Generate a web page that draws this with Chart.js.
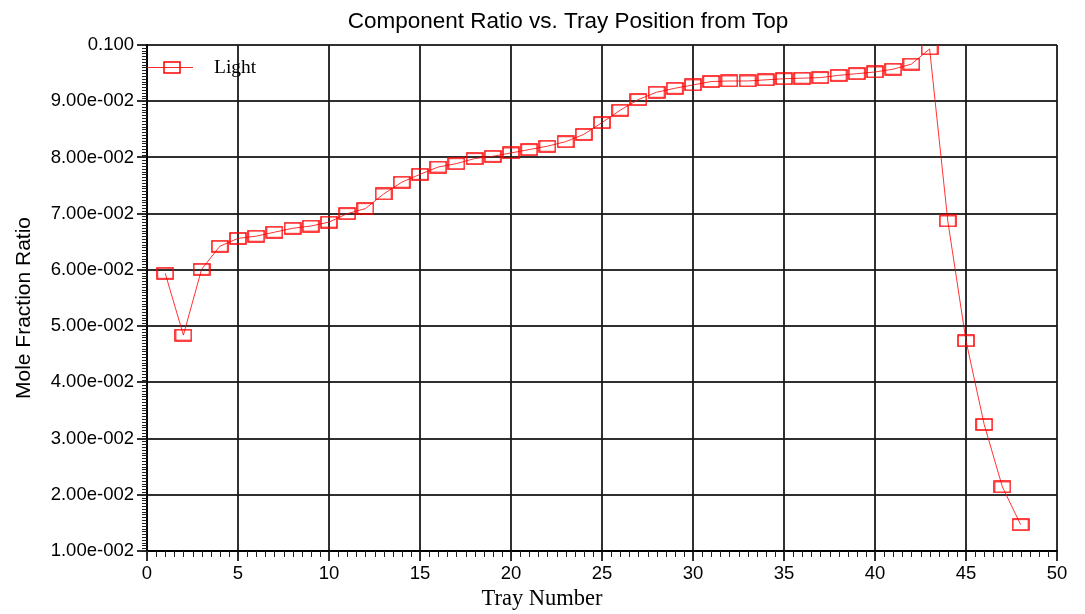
<!DOCTYPE html>
<html>
<head>
<meta charset="utf-8">
<script src="https://cdn.jsdelivr.net/npm/chart.js@4.4.1/dist/chart.umd.min.js"></script>
<style>
  html, body { margin: 0; padding: 0; background: #fff; }
  #wrap { width: 1085px; height: 614px; position: relative; }
</style>
</head>
<body>
<div id="wrap"><canvas id="c" width="1085" height="614"></canvas></div>
<script>
const chartTitle = 'Component Ratio vs. Tray Position from Top';
const xTitle = 'Tray Number';
const yTitle = 'Mole Fraction Ratio';
const seriesName = 'Light';

const trays = [1,2,3,4,5,6,7,8,9,10,11,12,13,14,15,16,17,18,19,20,21,22,23,24,
               25,26,27,28,29,30,31,32,33,34,35,36,37,38,39,40,41,42,43,44,45,46,47,48];
const light = [0.0594,0.0484,0.0601,0.0642,0.0656,0.0660,0.0667,0.0674,0.0678,0.0685,
               0.0700,0.0709,0.0735,0.0756,0.0770,0.0783,0.0789,0.0798,0.0802,0.0808,
               0.0814,0.0820,0.0828,0.0841,0.0862,0.0884,0.0903,0.0916,0.0923,0.0929,
               0.0935,0.0936,0.0936,0.0938,0.0940,0.0941,0.0942,0.0946,0.0949,0.0952,
               0.0957,0.0966,0.0993,0.0687,0.0474,0.0325,0.0214,0.0147];

const xMin = 0, xMax = 50, xStep = 5, xMinorStep = 0.5;
const yMin = 0.01, yMax = 0.1, yStep = 0.01, yMinorStep = 0.0005;

function fmtY(v) {
  const r = Math.round(v * 10000) / 10000;
  if (Math.abs(r - 0.1) < 1e-9) return '0.100';
  const parts = r.toExponential(2).split('e');
  const n = parseInt(parts[1], 10);
  return parts[0] + 'e' + (n < 0 ? '-' : '+') + String(Math.abs(n)).padStart(3, '0');
}

// marker image: open rectangle
function makeMarker() {
  const cv = document.createElement('canvas');
  cv.width = 18; cv.height = 13;
  const g = cv.getContext('2d');
  g.strokeStyle = '#ff0000';
  g.lineWidth = 1.5;
  g.strokeRect(1, 1, 16, 11);
  return cv;
}
const marker = makeMarker();

const extras = {
  id: 'extras',
  afterDraw(chart) {
    const ctx = chart.ctx;
    const xs = chart.scales.x, ys = chart.scales.y;
    ctx.save();
    // minor ticks
    ctx.strokeStyle = '#222';
    ctx.lineWidth = 1;
    ctx.beginPath();
    const nY = Math.round((yMax - yMin) / yMinorStep);
    for (let i = 0; i <= nY; i++) {
      const v = yMin + i * yMinorStep;
      const py = Math.round(ys.getPixelForValue(v)) + 0.5;
      ctx.moveTo(ys.right - 5, py); ctx.lineTo(ys.right, py);
    }
    const nX = Math.round((xMax - xMin) / xMinorStep);
    for (let i = 0; i <= nX; i++) {
      const v = xMin + i * xMinorStep;
      const px = Math.round(xs.getPixelForValue(v)) + 0.5;
      ctx.moveTo(px, xs.top); ctx.lineTo(px, xs.top + 6);
    }
    ctx.stroke();

    // chart title
    ctx.fillStyle = '#000';
    ctx.font = '22.5px "Liberation Sans", Arial, sans-serif';
    ctx.textAlign = 'center';
    ctx.textBaseline = 'middle';
    ctx.fillText(chartTitle, 568, 22);

    // y title
    ctx.save();
    ctx.translate(24, 308);
    ctx.rotate(-Math.PI / 2);
    ctx.font = '21px "Liberation Sans", Arial, sans-serif';
    ctx.fillText(yTitle, 0, 0);
    ctx.restore();

    // x title
    ctx.font = '22.5px "Liberation Serif", "Times New Roman", serif';
    ctx.fillText(xTitle, 542, 599);

    // legend
    const ly = 67.5;
    ctx.strokeStyle = 'rgba(255,0,0,0.85)';
    ctx.lineWidth = 1;
    ctx.beginPath();
    ctx.moveTo(xs.left, ly); ctx.lineTo(193, ly);
    ctx.stroke();
    ctx.drawImage(marker, 172 - 9, ly - 6.5);
    ctx.font = '19.5px "Liberation Serif", "Times New Roman", serif';
    ctx.textAlign = 'left';
    ctx.textBaseline = 'alphabetic';
    ctx.fillText(chart.data.datasets[0].label, 214, 73);
    ctx.restore();
  }
};

const gridColor = 'rgba(25,25,25,0.9)';

new Chart(document.getElementById('c'), {
  type: 'line',
  data: {
    datasets: [{
      label: seriesName,
      data: trays.map((t, i) => ({ x: t, y: light[i] })),
      borderColor: 'rgba(255,0,0,0.8)',
      borderWidth: 1,
      pointStyle: marker,
      pointRadius: 6,
      tension: 0,
      fill: false
    }]
  },
  options: {
    responsive: false,
    animation: false,
    devicePixelRatio: 1,
    layout: { padding: { left: 0, right: 28, top: 45, bottom: 0 } },
    plugins: {
      legend: { display: false },
      title: { display: false },
      tooltip: { enabled: false }
    },
    scales: {
      x: {
        type: 'linear',
        min: xMin, max: xMax,
        afterFit(s) { s.height = 63; },
        ticks: {
          stepSize: xStep,
          color: '#000',
          padding: 2,
          maxRotation: 0,
          font: { family: '"Liberation Sans", Arial, sans-serif', size: 18.5 }
        },
        grid: { color: gridColor, lineWidth: 2, tickLength: 10 },
        border: { color: '#000', width: 2 }
      },
      y: {
        type: 'linear',
        min: yMin, max: yMax,
        afterFit(s) { s.width = 147; },
        ticks: {
          stepSize: yStep,
          color: '#000',
          padding: 3,
          callback: (v) => fmtY(v),
          font: { family: '"Liberation Sans", Arial, sans-serif', size: 18.5 }
        },
        grid: { color: gridColor, lineWidth: 2, tickLength: 10 },
        border: { color: '#000', width: 2 }
      }
    }
  },
  plugins: [extras]
});
</script>
</body>
</html>
